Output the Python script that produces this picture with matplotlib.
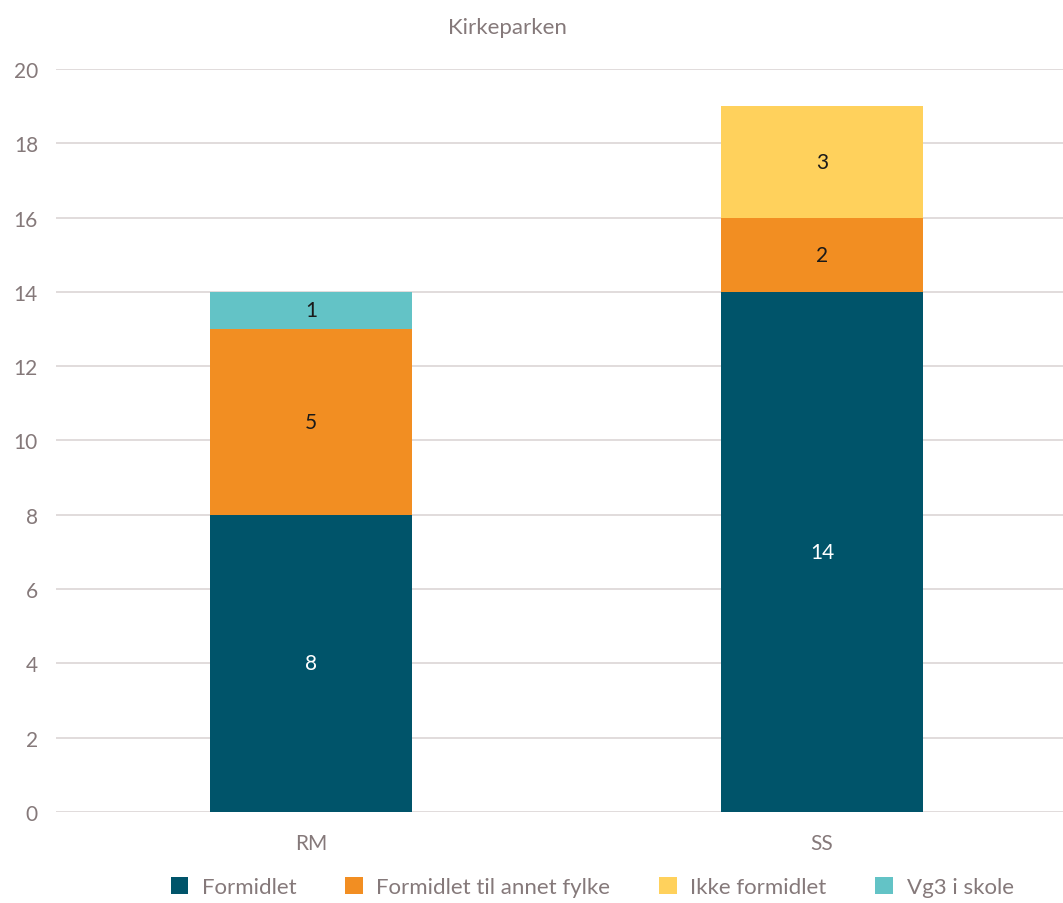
import numpy as np
import matplotlib.pyplot as plt
from matplotlib.patches import Patch

# ── Data ──────────────────────────────────────────────────────────────────────
categories = ["RM", "SS"]
series_names = ["Formidlet", "Formidlet til annet fylke", "Ikke formidlet", "Vg3 i skole"]
formidlet = [8, 14]
annet_fylke = [5, 2]
ikke_formidlet = [0, 3]
vg3_skole = [1, 0]
yticks = list(range(0, 21, 2))

COLORS = ["#00546A", "#F28E22", "#FFD15C", "#63C3C6"]
LABEL_COLORS = ["white", "#1a1a1a", "#1a1a1a", "#1a1a1a"]
TEXT = "#85797A"
GRID = "#DCD6D6"

plt.rcParams["font.family"] = ["Lato", "DejaVu Sans"]

fig = plt.figure(figsize=(10.63, 9.04), dpi=100)
ax = fig.add_axes([0.0527, 0.1007, 0.9473, 0.8219])

xs = np.arange(len(categories))
bottom = np.zeros(len(categories))
for vals, name, color, lc in zip([formidlet, annet_fylke, ikke_formidlet, vg3_skole],
                                 series_names, COLORS, LABEL_COLORS):
    vals = np.array(vals, dtype=float)
    ax.bar(xs, vals, width=0.395, bottom=bottom, color=color, label=name, zorder=2)
    for x, v, b in zip(xs, vals, bottom):
        if v > 0:
            ax.text(x, b + v / 2, f"{int(v)}", ha="center", va="center",
                    color=lc, fontsize=15, zorder=3)
    bottom += vals

ax.set_xlim(-0.5, 1.472)
ax.set_ylim(0, 20)
ax.set_yticks(yticks)
ax.set_xticks(xs)
ax.set_xticklabels(categories)
ax.tick_params(axis="both", length=0, labelsize=15, labelcolor=TEXT)
ax.tick_params(axis="y", pad=13)
ax.tick_params(axis="x", pad=15)
ax.grid(True, axis="y", color=GRID, linewidth=1.2, zorder=0)
for s in ax.spines.values():
    s.set_visible(False)

fig.text(0.477, 0.969, "Kirkeparken", ha="center", va="center", color=TEXT, fontsize=16)

handles = [Patch(facecolor=c, label=n) for c, n in zip(COLORS, series_names)]
fig.legend(handles=handles, loc="center", bbox_to_anchor=(0.557, 0.018),
           ncol=4, frameon=False, fontsize=16, labelcolor=TEXT,
           handlelength=0.8, handleheight=0.8, handletextpad=0.6, columnspacing=2.2)

fig.savefig("out.png", dpi=100)
